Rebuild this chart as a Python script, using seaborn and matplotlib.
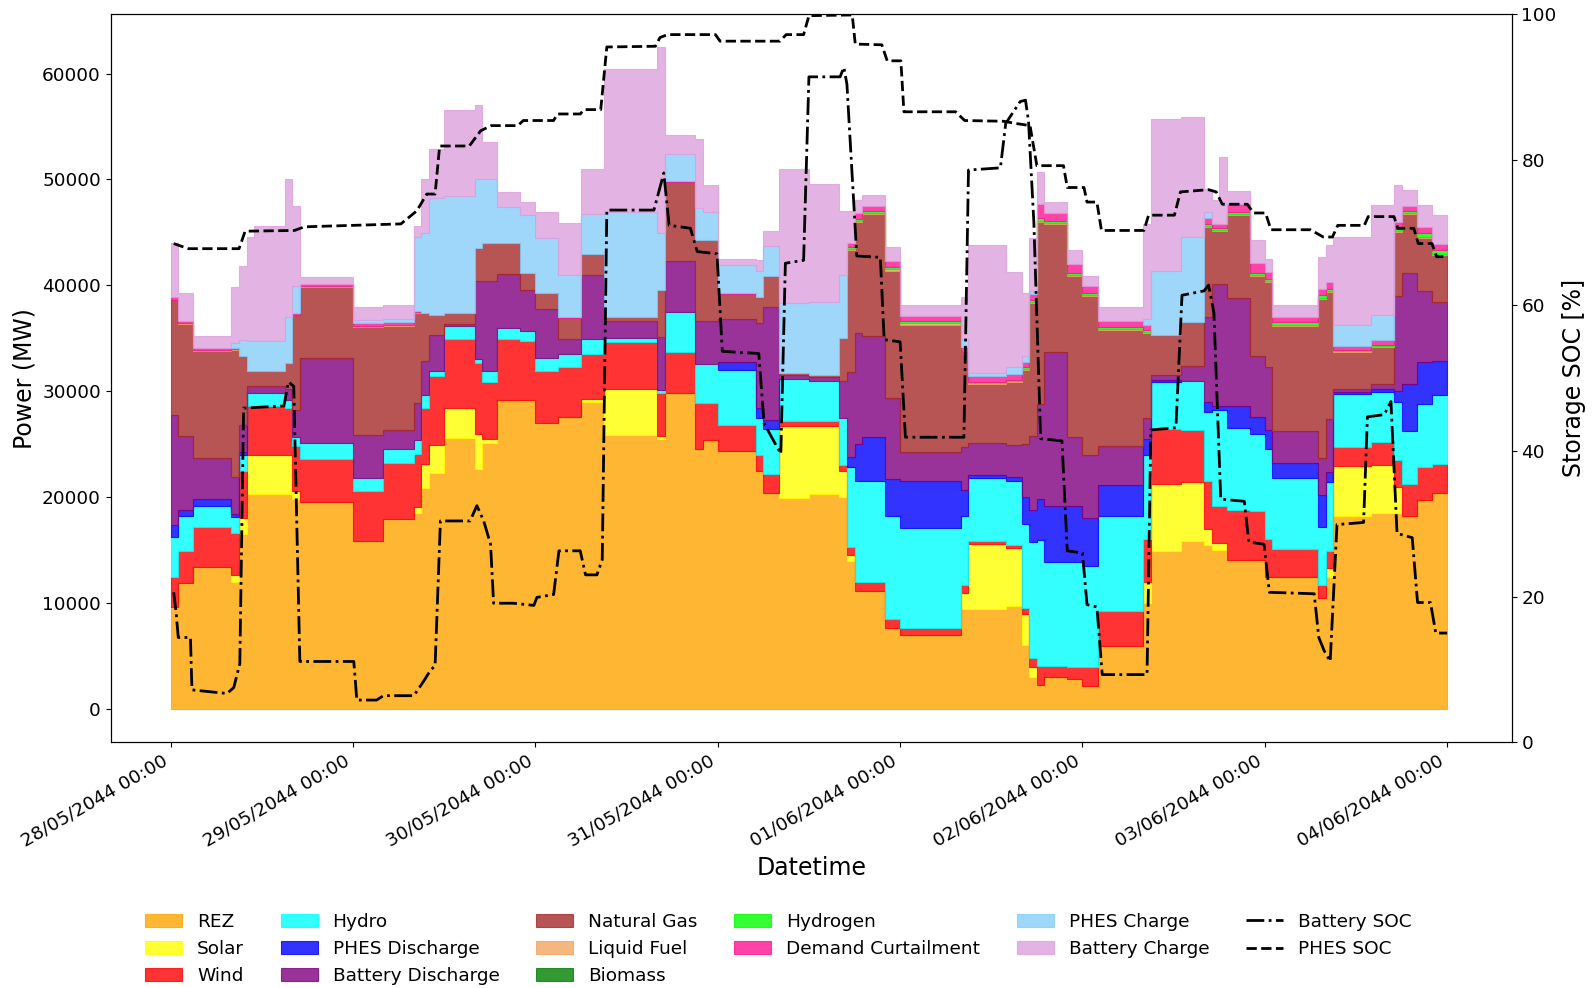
import numpy as np
import pandas as pd
import matplotlib
matplotlib.use("Agg")
import matplotlib.pyplot as plt
import matplotlib.dates as mdates
from matplotlib.patches import Patch
from matplotlib.lines import Line2D
import seaborn as sns

START = pd.Timestamp("2044-05-28 00:00")

# Hourly dispatch stored as run-length blocks: block i lasts BLOCK_HOURS[i] hours (MW)
BLOCK_HOURS = [1, 2, 5, 1, 1, 1, 4, 1, 1, 7,
               4, 4, 1, 1, 2, 4, 1, 2, 3, 2,
               3, 3, 3, 7, 1, 4, 1, 2,
               5, 1, 2, 4, 4, 1, 1, 1, 3, 2,
               8, 1, 5, 2, 1, 1, 1, 3, 2,
               2, 6, 1, 4, 3, 1, 1, 1, 3, 2,
               1, 6, 1, 1, 5, 3, 1, 2, 2, 2]

REZ = [9600, 11850, 13360, 12000, 16500, 20300, 20300, 20300, 19800, 19500,
       15900, 17900, 18500, 20840, 22270, 25540, 22700, 25130, 29210, 29200,
       27000, 27600, 29000, 25850, 25500, 29800, 24500, 25400,
       24400, 22500, 20400, 19900, 20300, 20000, 14000, 11100, 11100, 7600,
       7000, 9400, 9400, 9700, 6000, 3000, 2250, 3060, 2800,
       2200, 5900, 10000, 14900, 15900, 15500, 15000, 15000, 14100, 14100,
       12500, 12500, 10500, 12500, 18200, 18500, 18500, 18200, 19700, 20400]
SOLAR = [0, 0, 0, 600, 1500, 3700, 3700, 3700, 800, 0,
         0, 0, 600, 2250, 2660, 2860, 3250, 370, 0, 0,
         0, 0, 300, 4390, 300, 0, 0, 0,
         0, 0, 0, 6800, 6400, 2500, 500, 0, 0, 0,
         0, 1500, 6200, 5500, 3000, 1000, 0, 0, 0,
         0, 0, 2000, 6300, 5500, 1500, 700, 700, 0, 0,
         0, 0, 0, 800, 4700, 4500, 2500, 0, 0, 0]
WIND = [2900, 3070, 3800, 4000, 4500, 4600, 4600, 4400, 4200, 4100,
        4700, 5300, 5000, 5310, 6530, 6540, 6700, 5350, 5730, 5500,
        4900, 4700, 4200, 4390, 4000, 3950, 4400, 3500,
        2400, 1500, 1800, 500, 500, 500, 800, 900, 900, 900,
        600, 800, 300, 300, 500, 800, 1770, 1030, 1200,
        1800, 3300, 4000, 5200, 4900, 4500, 3500, 3500, 4700, 4600,
        3500, 2600, 1200, 1600, 1800, 2200, 2500, 3000, 3100, 2700]
HYDRO = [3700, 3260, 2040, 1500, 1500, 1230, 1230, 800, 900, 1500,
         1200, 1300, 1300, 1220, 410, 1220, 400, 1020, 1020, 1000,
         1200, 1200, 1400, 440, 300, 3730, 3700, 3700,
         5200, 3500, 4200, 4000, 3800, 4500, 7500, 9500, 9500, 9700,
         9500, 6500, 5900, 6000, 8000, 11000, 11920, 9800, 9900,
         9500, 9000, 8000, 4500, 4700, 6500, 9000, 9000, 7700, 7300,
         8500, 6700, 5500, 6500, 5000, 4700, 5500, 5000, 6000, 6500]
PHES_DISCHARGE = [1200, 620, 620, 300, 300, 0, 0, 0, 0, 0,
                  0, 0, 0, 0, 0, 0, 0, 0, 0, 0,
                  0, 0, 0, 0, 0, 0, 0, 0,
                  800, 900, 900, 0, 0, 0, 1000, 3500, 4200, 3500,
                  4400, 2500, 300, 400, 2500, 3000, 3880, 5310, 5300,
                  4500, 2900, 1500, 200, 0, 1000, 400, 400, 2100, 1600,
                  1800, 1400, 3000, 1000, 200, 300, 1000, 4500, 4000, 3300]
BATTERY_DISCHARGE = [10400, 6940, 3880, 3500, 2500, 690, 690, 1000, 2500, 8000,
                     4100, 1800, 3500, 3280, 3480, 200, 7350, 8580, 5100, 3900,
                     4700, 1400, 6100, 1530, 5000, 4820, 4000, 4000,
                     4000, 8000, 10700, 300, 300, 3500, 8000, 10500, 9500, 7700,
                     2800, 4000, 3000, 3000, 5000, 7000, 8980, 14500, 6500,
                     6000, 3700, 2000, 400, 1400, 8000, 11500, 11500, 10200, 5700,
                     6000, 3000, 3500, 5000, 300, 500, 9000, 10500, 6700, 5500]
NATURAL_GAS = [10800, 10630, 10090, 12000, 6500, 1350, 1350, 2500, 9000, 6700,
               10200, 9900, 8500, 4490, 1840, 1030, 3100, 3550, 2940, 1600,
               1500, 2000, 2000, 440, 4500, 7480, 7700, 7700,
               2400, 2500, 2900, 200, 200, 4000, 11500, 10500, 11500, 12000,
               12000, 9000, 5600, 6000, 7000, 12500, 17170, 12100, 15200,
               15000, 11000, 8000, 3800, 4100, 8500, 5000, 5000, 7800, 7600,
               8000, 10000, 15000, 12000, 3500, 3500, 6000, 5500, 5000, 4500]
LIQUID_FUEL = [0, 100, 100, 100, 0, 0, 0, 0, 0, 100,
               100, 100, 100, 0, 0, 0, 0, 0, 0, 0,
               0, 0, 0, 0, 0, 0, 0, 0,
               0, 0, 0, 0, 0, 0, 100, 100, 100, 100,
               100, 0, 100, 100, 100, 100, 100, 100, 100,
               100, 100, 100, 0, 0, 100, 100, 100, 100, 100,
               100, 100, 100, 100, 100, 100, 100, 100, 100, 100]
BIOMASS = [0, 0, 0, 0, 0, 0, 0, 0, 0, 0,
           0, 0, 0, 0, 0, 0, 0, 0, 0, 0,
           0, 0, 0, 0, 0, 0, 0, 0,
           0, 0, 0, 0, 0, 0, 0, 0, 0, 0,
           0, 0, 0, 0, 0, 0, 0, 0, 0,
           0, 0, 0, 0, 0, 0, 0, 0, 0, 0,
           0, 0, 0, 0, 0, 0, 0, 0, 0, 0]
HYDROGEN = [0, 0, 0, 0, 0, 0, 0, 0, 0, 0,
            0, 0, 0, 0, 0, 0, 0, 0, 0, 0,
            0, 0, 0, 0, 0, 0, 0, 0,
            0, 0, 0, 0, 0, 0, 200, 200, 200, 200,
            200, 0, 100, 100, 200, 200, 300, 200, 200,
            200, 200, 200, 0, 0, 200, 200, 200, 200, 200,
            200, 200, 300, 200, 100, 100, 200, 200, 300, 300]
DEMAND_CURTAILMENT = [300, 200, 200, 100, 0, 0, 0, 0, 200, 200,
                      200, 200, 100, 0, 0, 0, 0, 0, 0, 0,
                      0, 100, 0, 0, 0, 100, 0, 0,
                      100, 0, 0, 0, 0, 0, 400, 500, 500, 600,
                      500, 500, 500, 500, 500, 600, 1300, 700, 800,
                      600, 500, 500, 0, 0, 600, 400, 400, 800, 900,
                      700, 500, 600, 600, 400, 400, 700, 500, 600, 600]
PHES_CHARGE = [0, 0, 0, 500, 1500, 2860, 2860, 4300, 2500, 0,
               300, 300, 7000, 7560, 11020, 11030, 6500, 6050, 3400, 5400,
               5200, 4000, 3700, 9880, 5300, 2520, 3000, 2600,
               2600, 2500, 2800, 6600, 6900, 6000, 0, 0, 0, 0,
               0, 700, 300, 700, 500, 300, 0, 0, 0,
               0, 0, 500, 6100, 8100, 500, 0, 0, 0, 0,
               0, 0, 0, 0, 2000, 2400, 0, 0, 0, 0]
BATTERY_CHARGE = [5100, 2560, 1150, 5200, 7000, 9800, 10830, 13000, 7600, 700,
                  1300, 1300, 1000, 5100, 4710, 8170, 7000, 3480, 1430, 1300,
                  2400, 4900, 4300, 13480, 17600, 1770, 6500, 2600,
                  600, 1000, 1400, 12700, 11200, 6000, 3000, 1300, 1000, 1300,
                  1000, 4000, 12100, 9000, 6000, 5000, 3000, 1100, 1300,
                  1000, 1400, 9000, 14300, 11300, 2200, 2300, 6300, 1200, 2200,
                  1200, 1100, 3000, 3500, 8300, 10400, 3500, 1500, 2100, 2700]

# Storage state of charge (%), hours since start
BATTERY_SOC_H = [0.4, 0.7, 1.0, 2.6, 2.8, 7.4, 8.3, 9.1, 9.6, 14.9,
                 15.5, 16.2, 17.0, 24.1, 24.5, 27.1, 28.0, 32.0, 33.3, 34.2,
                 34.8, 35.5, 39.4, 40.3, 41.2, 42.1, 42.5, 45.1, 47.8, 48.2,
                 50.4, 51.1, 53.9, 54.6, 56.1, 56.8, 57.4, 63.6, 64.9, 65.6,
                 68.4, 69.3, 71.9, 72.6, 77.4, 78.1, 80.3, 80.9, 83.3, 84.0,
                 88.1, 88.6, 89.0, 90.3, 93.4, 93.9, 96.0, 96.7, 104.4, 105.0,
                 109.2, 109.9, 111.8, 112.5, 112.9, 113.6, 114.5, 117.3, 118.0, 120.0,
                 120.6, 121.9, 122.6, 128.5, 129.0, 132.3, 133.1, 136.0, 136.6, 137.3,
                 138.2, 141.3, 141.9, 143.9, 144.6, 150.5, 151.1, 151.8, 152.6, 153.5,
                 157.0, 157.5, 159.7, 160.6, 161.4, 163.4, 164.1, 165.8, 166.5, 168.0]
BATTERY_SOC = [20.6, 18.0, 14.4, 14.4, 7.2, 6.7, 7.5, 10.8, 45.9, 46.2,
               49.5, 48.9, 11.1, 11.1, 5.8, 5.8, 6.4, 6.4, 8.4, 9.9,
               10.5, 30.4, 30.4, 32.5, 30.4, 27.2, 19.1, 19.1, 18.8, 19.9,
               20.3, 26.3, 26.3, 23.0, 23.0, 25.1, 73.1, 73.1, 78.2, 71.0,
               70.6, 67.4, 67.1, 53.7, 53.4, 43.8, 39.6, 65.8, 66.2, 91.4,
               91.4, 92.7, 90.4, 66.8, 66.6, 55.3, 55.0, 41.9, 41.9, 78.6,
               78.9, 85.0, 88.0, 88.2, 85.3, 71.5, 41.7, 41.4, 26.3, 26.0,
               18.9, 18.6, 9.3, 9.3, 42.9, 43.2, 61.4, 62.0, 62.8, 59.0,
               33.4, 33.1, 27.5, 27.2, 20.6, 20.4, 14.4, 12.6, 11.1, 29.9,
               30.2, 44.7, 45.0, 46.8, 28.7, 28.1, 19.2, 19.2, 15.0, 15.0]
PHES_SOC_H = [0.4, 2.3, 9.0, 9.8, 16.3, 17.6, 30.3, 32.4, 33.7, 34.8,
              35.4, 39.3, 40.8, 42.2, 45.7, 46.4, 50.4, 50.9, 53.9, 54.4,
              56.6, 57.4, 63.8, 64.4, 65.4, 71.7, 72.3, 80.2, 81.0, 83.3,
              84.0, 89.7, 90.1, 93.6, 94.3, 96.1, 96.5, 103.3, 104.5, 109.6,
              111.2, 113.1, 114.0, 117.5, 118.0, 120.2, 120.6, 121.9, 122.5, 128.1,
              128.7, 132.1, 132.9, 136.6, 137.6, 138.4, 141.7, 142.5, 144.1, 144.8,
              150.0, 151.7, 152.9, 153.6, 157.1, 157.6, 161.0, 161.5, 163.6, 164.2,
              166.0, 166.6, 168.0]
PHES_SOC = [68.5, 67.8, 67.8, 70.2, 70.3, 70.8, 71.2, 73.0, 75.3, 75.3,
            81.9, 81.9, 84.0, 84.7, 84.7, 85.4, 85.4, 86.3, 86.3, 86.9,
            86.9, 95.5, 95.6, 96.8, 97.2, 97.2, 96.3, 96.3, 97.2, 97.2,
            99.8, 99.9, 95.9, 95.8, 93.6, 93.6, 86.6, 86.6, 85.4, 85.3,
            85.0, 84.7, 79.2, 79.2, 76.2, 76.2, 74.2, 74.2, 70.3, 70.3,
            72.4, 72.4, 75.6, 75.9, 75.6, 73.9, 73.9, 72.7, 72.7, 70.4,
            70.4, 69.4, 69.4, 71.0, 71.0, 72.2, 72.2, 70.6, 70.6, 68.5,
            68.5, 66.7, 66.7]

STACK = [
    ("REZ", REZ, "orange"),
    ("Solar", SOLAR, "yellow"),
    ("Wind", WIND, "red"),
    ("Hydro", HYDRO, "cyan"),
    ("PHES Discharge", PHES_DISCHARGE, "blue"),
    ("Battery Discharge", BATTERY_DISCHARGE, "purple"),
    ("Natural Gas", NATURAL_GAS, "brown"),
    ("Liquid Fuel", LIQUID_FUEL, "sandybrown"),
    ("Biomass", BIOMASS, "green"),
    ("Hydrogen", HYDROGEN, "lime"),
    ("Demand Curtailment", DEMAND_CURTAILMENT, "deeppink"),
    ("PHES Charge", PHES_CHARGE, "lightskyblue"),
    ("Battery Charge", BATTERY_CHARGE, "plum"),
]

n_hours = int(np.sum(BLOCK_HOURS))
times = START + pd.to_timedelta(np.arange(n_hours + 1), unit="h")

fig = plt.figure(figsize=(15.92, 9.88), dpi=100)
ax = fig.add_axes([0.0695, 0.2487, 0.9496 - 0.0695, 0.9856 - 0.2487])

handles = []
base = np.zeros(n_hours + 1)
for name, blocks, color in STACK:
    hourly = np.repeat(np.asarray(blocks, dtype=float), BLOCK_HOURS)
    hourly = np.append(hourly, hourly[-1])
    top = base + hourly
    # only outline hours where the technology is actually running
    active = hourly > 0
    active[1:] |= hourly[:-1] > 0
    if active.any():
        ax.fill_between(times, base, top, where=active, step="post",
                        facecolor=color, edgecolor=color, alpha=0.8, linewidth=0.8)
    handles.append(Patch(facecolor=color, edgecolor=color, alpha=0.8,
                         linewidth=0.8, label=name))
    base = top

ax.set_ylim(-3150, 65600)
ax.set_xlim(START - pd.Timedelta(hours=7.9), START + pd.Timedelta(hours=176.5))
ax.set_ylabel("Power (MW)", fontsize=17)
ax.set_xlabel("Datetime", fontsize=17)
ax.xaxis.set_major_locator(mdates.DayLocator())
ax.xaxis.set_major_formatter(mdates.DateFormatter("%d/%m/%Y %H:%M"))
ax.tick_params(axis="both", labelsize=13.3)
plt.setp(ax.get_xticklabels(), rotation=30, ha="right")

ax2 = ax.twinx()
batt_t = START + pd.to_timedelta(BATTERY_SOC_H, unit="h")
phes_t = START + pd.to_timedelta(PHES_SOC_H, unit="h")
sns.lineplot(x=batt_t, y=BATTERY_SOC, ax=ax2, color="black", linestyle="-.", linewidth=2)
sns.lineplot(x=phes_t, y=PHES_SOC, ax=ax2, color="black", linestyle="--", linewidth=2)
ax2.set_ylim(0, 100)
ax2.set_ylabel("Storage SOC [%]", fontsize=17)
ax2.tick_params(axis="y", labelsize=13.3)
ax2.set_xlim(ax.get_xlim())

handles.append(Line2D([], [], color="black", linestyle="-.", linewidth=2, label="Battery SOC"))
handles.append(Line2D([], [], color="black", linestyle="--", linewidth=2, label="PHES SOC"))

fig.legend(handles=handles, loc="upper center", bbox_to_anchor=(0.489, 0.093),
           ncol=6, frameon=False, fontsize=13.3)

fig.savefig("out.png", dpi=100)
